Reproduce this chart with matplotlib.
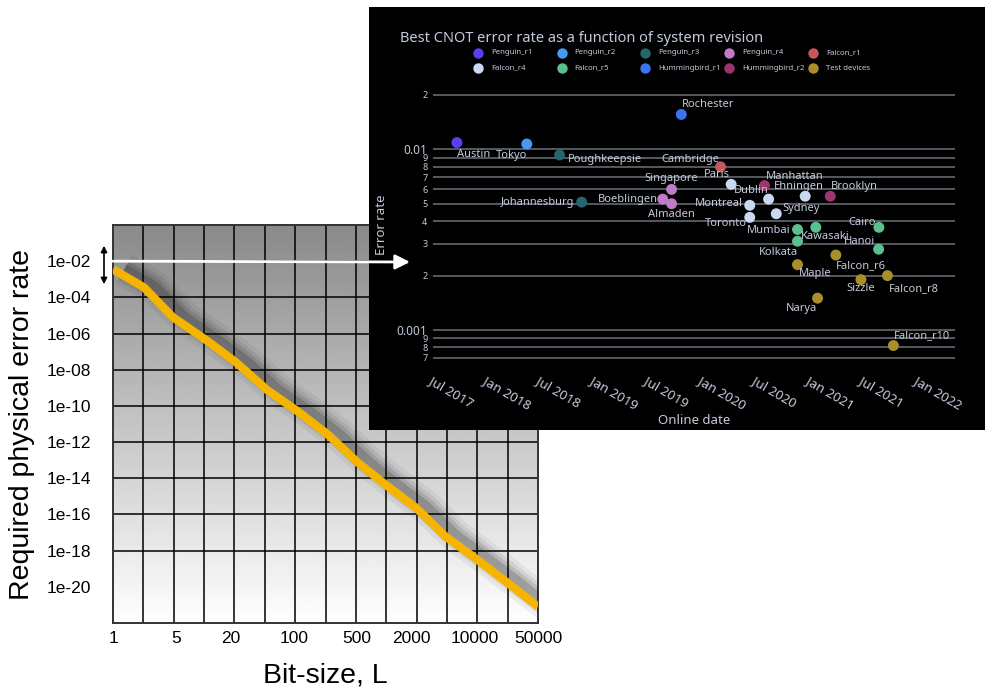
import numpy as np
import pandas as pd
import matplotlib
matplotlib.use("Agg")
import matplotlib.pyplot as plt
import matplotlib.patheffects as pe
from matplotlib.patches import ConnectionPatch, FancyArrowPatch
from matplotlib.lines import Line2D

# ---------------- left chart: required error rate vs bit-size ----------------
bit_size = [1, 2.2, 4.6, 11, 23, 50, 110, 240, 500, 1000, 2200, 4700, 10000, 22000, 50000]
req_rate_exp = [-2.45, -3.45, -5.1, -6.4, -7.6, -9.1, -10.3, -11.6, -13.1, -14.3,
                -15.6, -17.2, -18.4, -19.7, -21.1]
bit_ticks = [1, 5, 20, 100, 500, 2000, 10000, 50000]
bit_tick_labels = ["1", "5", "20", "100", "500", "2000", "10000", "50000"]
rate_ticks = [1e-2, 1e-4, 1e-6, 1e-8, 1e-10, 1e-12, 1e-14, 1e-16, 1e-18, 1e-20]
rate_tick_labels = ["1e-02", "1e-04", "1e-06", "1e-08", "1e-10", "1e-12",
                    "1e-14", "1e-16", "1e-18", "1e-20"]

# ---------------- inset: best CNOT error per device ----------------
families = ["Penguin_r1", "Penguin_r2", "Penguin_r3", "Penguin_r4", "Falcon_r1",
            "Falcon_r4", "Falcon_r5", "Hummingbird_r1", "Hummingbird_r2", "Test devices"]
family_colors = ["#5b3ef0", "#4599f2", "#24676d", "#c07ac8", "#c4585e",
                 "#cbd8f2", "#5cbf8e", "#3a74f2", "#9c3470", "#a88f2c"]

devices = ["Austin", "Tokyo", "Poughkeepsie", "Johannesburg", "Boeblingen", "Singapore",
           "Almaden", "Rochester", "Cambridge", "Paris", "Montreal", "Toronto",
           "Manhattan", "Dublin", "Sydney", "Ehningen", "Mumbai", "Kolkata", "Kawasaki",
           "Brooklyn", "Cairo", "Hanoi", "Maple", "Narya", "Falcon_r6", "Sizzle",
           "Falcon_r8", "Falcon_r10"]
device_family = ["Penguin_r1", "Penguin_r2", "Penguin_r3", "Penguin_r3", "Penguin_r4",
                 "Penguin_r4", "Penguin_r4", "Hummingbird_r1", "Falcon_r1", "Falcon_r4",
                 "Falcon_r4", "Falcon_r4", "Hummingbird_r2", "Falcon_r4", "Falcon_r4",
                 "Falcon_r4", "Falcon_r5", "Falcon_r5", "Falcon_r5", "Hummingbird_r2",
                 "Falcon_r5", "Falcon_r5", "Test devices", "Test devices", "Test devices",
                 "Test devices", "Test devices", "Test devices"]
online_date = ["2017-09-20", "2018-05-15", "2018-09-03", "2018-11-17", "2019-08-19",
               "2019-09-18", "2019-09-18", "2019-10-21", "2020-03-02", "2020-04-07",
               "2020-06-09", "2020-06-09", "2020-07-29", "2020-08-12", "2020-09-07",
               "2020-12-14", "2020-11-18", "2020-11-18", "2021-01-19", "2021-03-09",
               "2021-08-21", "2021-08-20", "2020-11-18", "2021-01-25", "2021-03-28",
               "2021-06-21", "2021-09-19", "2021-10-09"]
cnot_error = [0.0109, 0.0107, 0.0093, 0.0051, 0.0053, 0.0060, 0.0050, 0.0156, 0.0080,
              0.0064, 0.0049, 0.0042, 0.0063, 0.0053, 0.0044, 0.0055, 0.0036, 0.0031,
              0.0037, 0.0055, 0.0037, 0.0028, 0.0023, 0.0015, 0.0026, 0.0019, 0.0020,
              0.00082]

date_ticks = ["2017-07-01", "2018-01-01", "2018-07-01", "2019-01-01", "2019-07-01",
              "2020-01-01", "2020-07-01", "2021-01-01", "2021-07-01", "2022-01-01"]
date_tick_labels = ["Jul 2017", "Jan 2018", "Jul 2018", "Jan 2019", "Jul 2019",
                    "Jan 2020", "Jul 2020", "Jan 2021", "Jul 2021", "Jan 2022"]
err_ticks = [0.02, 0.01, 0.009, 0.008, 0.007, 0.006, 0.005, 0.004, 0.003, 0.002,
             0.001, 0.0009, 0.0008, 0.0007]
err_tick_labels = ["2", "0.01", "9", "8", "7", "6", "5", "4", "3", "2",
                   "0.001", "9", "8", "7"]

# label placement (pixel offset, alignment)
label_pos = {
    "Austin": (0, -12, "left"), "Tokyo": (0, -11, "right"),
    "Poughkeepsie": (8, -4, "left"), "Johannesburg": (-7, 0, "right"),
    "Singapore": (0, 11, "center"), "Boeblingen": (-5, 0, "right"),
    "Almaden": (0, -11, "center"), "Rochester": (1, 10, "left"),
    "Cambridge": (-1, 7, "right"), "Paris": (-1, 10, "right"),
    "Dublin": (0, 9, "right"), "Manhattan": (1, 9, "left"),
    "Ehningen": (-6, 10, "center"), "Brooklyn": (1, 10, "left"),
    "Montreal": (-7, 2, "right"), "Sydney": (6, 5, "left"),
    "Toronto": (-3, -6, "right"), "Mumbai": (-7, -1, "right"),
    "Kawasaki": (9, -9, "center"), "Kolkata": (0, -11, "right"),
    "Cairo": (-3, 5, "right"), "Hanoi": (-3, 8, "right"),
    "Maple": (1, -9, "left"), "Falcon_r6": (0, -11, "left"),
    "Sizzle": (0, -9, "center"), "Falcon_r8": (1, -13, "left"),
    "Narya": (0, -10, "right"), "Falcon_r10": (1, 10, "left"),
}

W, H = 985, 693
fig = plt.figure(figsize=(W / 100, H / 100), dpi=100)
fig.patch.set_facecolor("white")


def fx(px):
    return px / W


def fy(py):
    return 1 - py / H


# ---- left chart
ax = fig.add_axes([fx(113), fy(623), fx(538) - fx(113), fy(225) - fy(623)])
ax.set_xscale("log")
ax.set_yscale("log")
grad = np.linspace(0.54, 1.0, 256).reshape(-1, 1)
ax.imshow(grad, cmap="gray", vmin=0, vmax=1, extent=[0, 1, 0, 1],
          transform=ax.transAxes, aspect="auto", zorder=0)
ax.set_xlim(1, 50000)
ax.set_ylim(1e-22, 1)

for v in np.geomspace(1, 50000, 15)[1:-1]:
    ax.axvline(v, color="black", lw=1.1, zorder=1)
for v in rate_ticks[:-1]:
    ax.axhline(v, color="black", lw=1.1, zorder=1)

# soft shadow to the right of the curve
line_y = [10.0 ** e for e in req_rate_exp]
shadow = [pe.SimpleLineShadow(offset=(8, 0), shadow_color="black", alpha=a, linewidth=w)
          for a, w in [(0.05, 24), (0.08, 18), (0.11, 13), (0.16, 8)]]
ax.plot(bit_size, line_y, color="#f5b400", lw=6, solid_capstyle="butt", zorder=3,
        path_effects=shadow + [pe.Normal()])

ax.set_xticks(bit_ticks)
ax.set_xticklabels(bit_tick_labels)
ax.set_yticks(rate_ticks)
ax.set_yticklabels(rate_tick_labels)
ax.minorticks_off()
ax.tick_params(length=0, labelsize=12.5, pad=6)
ax.tick_params(axis="y", pad=16)
for lab in ax.get_xticklabels() + ax.get_yticklabels():
    lab.set_family("Liberation Sans")
for s in ax.spines.values():
    s.set_color("#333333")
    s.set_linewidth(1.4)
ax.set_xlabel("Bit-size, L", fontsize=20.5, family="Liberation Sans", labelpad=12)
ax.set_ylabel("Required physical error rate", fontsize=20.5, family="Liberation Sans", labelpad=8)

# double headed arrow next to 1e-02
fig.add_artist(FancyArrowPatch((fx(104), fy(243)), (fx(104), fy(287)),
                               transform=fig.transFigure, arrowstyle="<|-|>",
                               mutation_scale=9, color="black", lw=1.2, zorder=5))

# ---- inset panel (black background)
bg = fig.add_axes([fx(369), fy(430), 1 - fx(369), fy(7) - fy(430)])
bg.set_facecolor("black")
bg.set_xticks([])
bg.set_yticks([])
for s in bg.spines.values():
    s.set_visible(False)
bg.set_zorder(2)

txt_col = "#c3cbdb"
ai = fig.add_axes([fx(433), fy(365), fx(955) - fx(433), fy(85) - fy(365)])
ai.set_facecolor("none")
ai.set_zorder(3)
ai.set_yscale("log")
ai.set_ylim(0.00064, 0.0227)
ai.set_xlim(pd.Timestamp("2017-07-04"), pd.Timestamp("2022-05-06"))
for s in ai.spines.values():
    s.set_visible(False)

dates = pd.to_datetime(online_date)
for fam, col in zip(families, family_colors):
    idx = [i for i, f in enumerate(device_family) if f == fam]
    ai.scatter(dates[idx], [cnot_error[i] for i in idx], s=62, color=col,
               edgecolors="none", zorder=4)

for i, name in enumerate(devices):
    dx, dy, ha = label_pos[name]
    ai.annotate(name, (dates[i], cnot_error[i]), xytext=(dx, dy),
                textcoords="offset pixels", ha=ha, va="center", fontsize=8,
                color=txt_col, family="Noto Sans", zorder=5)

ai.set_yticks(err_ticks)
ai.set_yticklabels(err_tick_labels)
ai.minorticks_off()
ai.yaxis.grid(True, color="#5b6068", lw=1.3)
ai.set_axisbelow(True)
ai.tick_params(axis="y", length=0, pad=4, colors=txt_col)
for lab in ai.get_yticklabels():
    lab.set_family("Noto Sans")
    lab.set_fontsize(8.5 if lab.get_text().startswith("0.") else 6.5)

ai.set_xticks(pd.to_datetime(date_ticks))
ai.set_xticklabels(date_tick_labels, rotation=-30, ha="left", va="top",
                   rotation_mode="anchor", family="Noto Sans", fontsize=9.5)
ai.tick_params(axis="x", length=0, pad=6, colors=txt_col)

ai.set_ylabel("Error rate", color=txt_col, fontsize=9.5, family="Noto Sans")
ai.yaxis.set_label_coords((388 - 433) / 522, 0.5)
ai.set_xlabel("Online date", color=txt_col, fontsize=9.5, family="Noto Sans")
ai.xaxis.set_label_coords(0.5, -0.175)

fig.text(fx(400), fy(38), "Best CNOT error rate as a function of system revision",
         color=txt_col, fontsize=10.5, family="Noto Sans", va="center", ha="left")

# legend, 2 rows x 5 columns, even spacing
for k, (fam, col) in enumerate(zip(families, family_colors)):
    c, r = k % 5, k // 5
    mx, my = 478 + 83.7 * c, 53 + 15 * r
    fig.add_artist(Line2D([fx(mx)], [fy(my)], marker="o", markersize=7.5,
                          color=col, markeredgewidth=0, transform=fig.transFigure,
                          zorder=6))
    fig.text(fx(mx + 13), fy(my), fam, color=txt_col, fontsize=5.6,
             family="Noto Sans", va="center", ha="left", zorder=6)

# white arrow from 1e-02 into the inset
con = ConnectionPatch(xyA=(1, 1e-2), coordsA=ax.transData,
                      xyB=(fx(410), fy(262)), coordsB=fig.transFigure,
                      arrowstyle="-|>", mutation_scale=22, color="white", lw=2)
con.set_zorder(10)
fig.add_artist(con)

fig.savefig("out.png", dpi=100, facecolor="white")
